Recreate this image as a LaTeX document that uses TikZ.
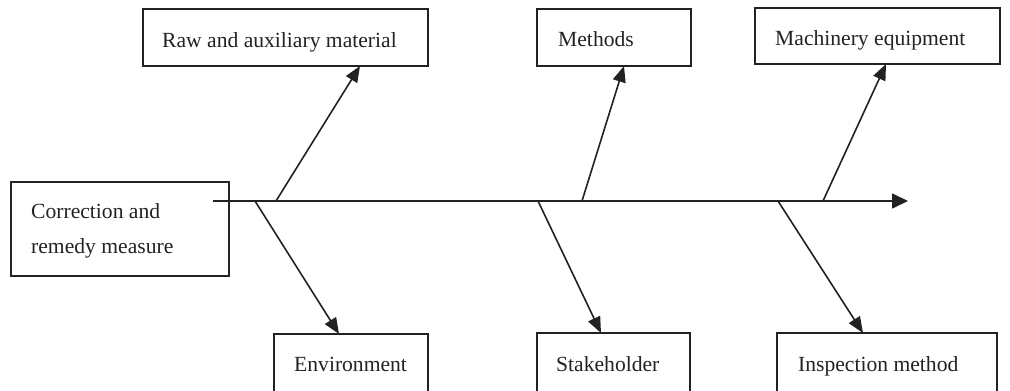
\documentclass[tikz,border=0pt]{standalone}
\usepackage{fontspec}
\setmainfont{Liberation Serif}
\usetikzlibrary{arrows.meta}
\definecolor{ink}{HTML}{222222}
\begin{document}
\begin{tikzpicture}[x=1pt,y=-1pt,
  box/.style={draw=ink, line width=1.4pt, inner sep=0pt, outer sep=0pt, anchor=north west},
  lbl/.style={text=ink, inner sep=0pt, anchor=base west, font=\fontsize{21.6}{26}\selectfont},
  arr/.style={draw=ink, line width=1.6pt, -{Triangle[length=16pt,width=13pt]}}]
\useasboundingbox (0,0) rectangle (1010,391);
\clip (0,0) rectangle (1010,391);
% boxes
\node[box, minimum width=285pt, minimum height=57pt] (raw) at (143,9) {};
\node[box, minimum width=154pt, minimum height=57pt] (meth) at (537,9) {};
\node[box, minimum width=245pt, minimum height=56pt] (mach) at (755,8) {};
\node[box, minimum width=218pt, minimum height=94pt] (corr) at (11,182) {};
\node[box, minimum width=154pt, minimum height=70pt] (env) at (274,334) {};
\node[box, minimum width=153pt, minimum height=70pt] (stake) at (537,333) {};
\node[box, minimum width=220pt, minimum height=70pt] (insp) at (777,333) {};
% labels
\node[lbl] (rawt) at (162,47) {Raw and auxiliary material};
\node[lbl] (metht) at (558,46) {Methods};
\node[lbl] (macht) at (775,45) {Machinery equipment};
\node[lbl] (corrt1) at (31,218) {Correction and};
\node[lbl] (corrt2) at (31,253) {remedy measure};
\node[lbl] (envt) at (294,371) {Environment};
\node[lbl] (staket) at (556,371) {Stakeholder};
\node[lbl] (inspt) at (798,371) {Inspection method};
% spine
\coordinate (s0) at (213,201);
\coordinate (s1) at (908,201);
\draw[arr, -{Triangle[length=16pt,width=15pt]}] (s0) -- (s1);
% branch roots on spine
\coordinate (braw) at (276,201);
\coordinate (bmeth) at (582,201);
\coordinate (bmach) at (823,201);
\coordinate (benv) at (255,201);
\coordinate (bstake) at (538,201);
\coordinate (binsp) at (778,201);
\draw[arr] (braw) -- ([xshift=217pt]raw.south west);
\draw[arr] (bmeth) -- ([xshift=87pt]meth.south west);
\draw[arr] (bmach) -- ([xshift=131pt]mach.south west);
\draw[arr] (benv) -- ([xshift=65pt]env.north west);
\draw[arr] (bstake) -- ([xshift=64pt]stake.north west);
\draw[arr] (binsp) -- ([xshift=86pt]insp.north west);
\end{tikzpicture}
\end{document}
